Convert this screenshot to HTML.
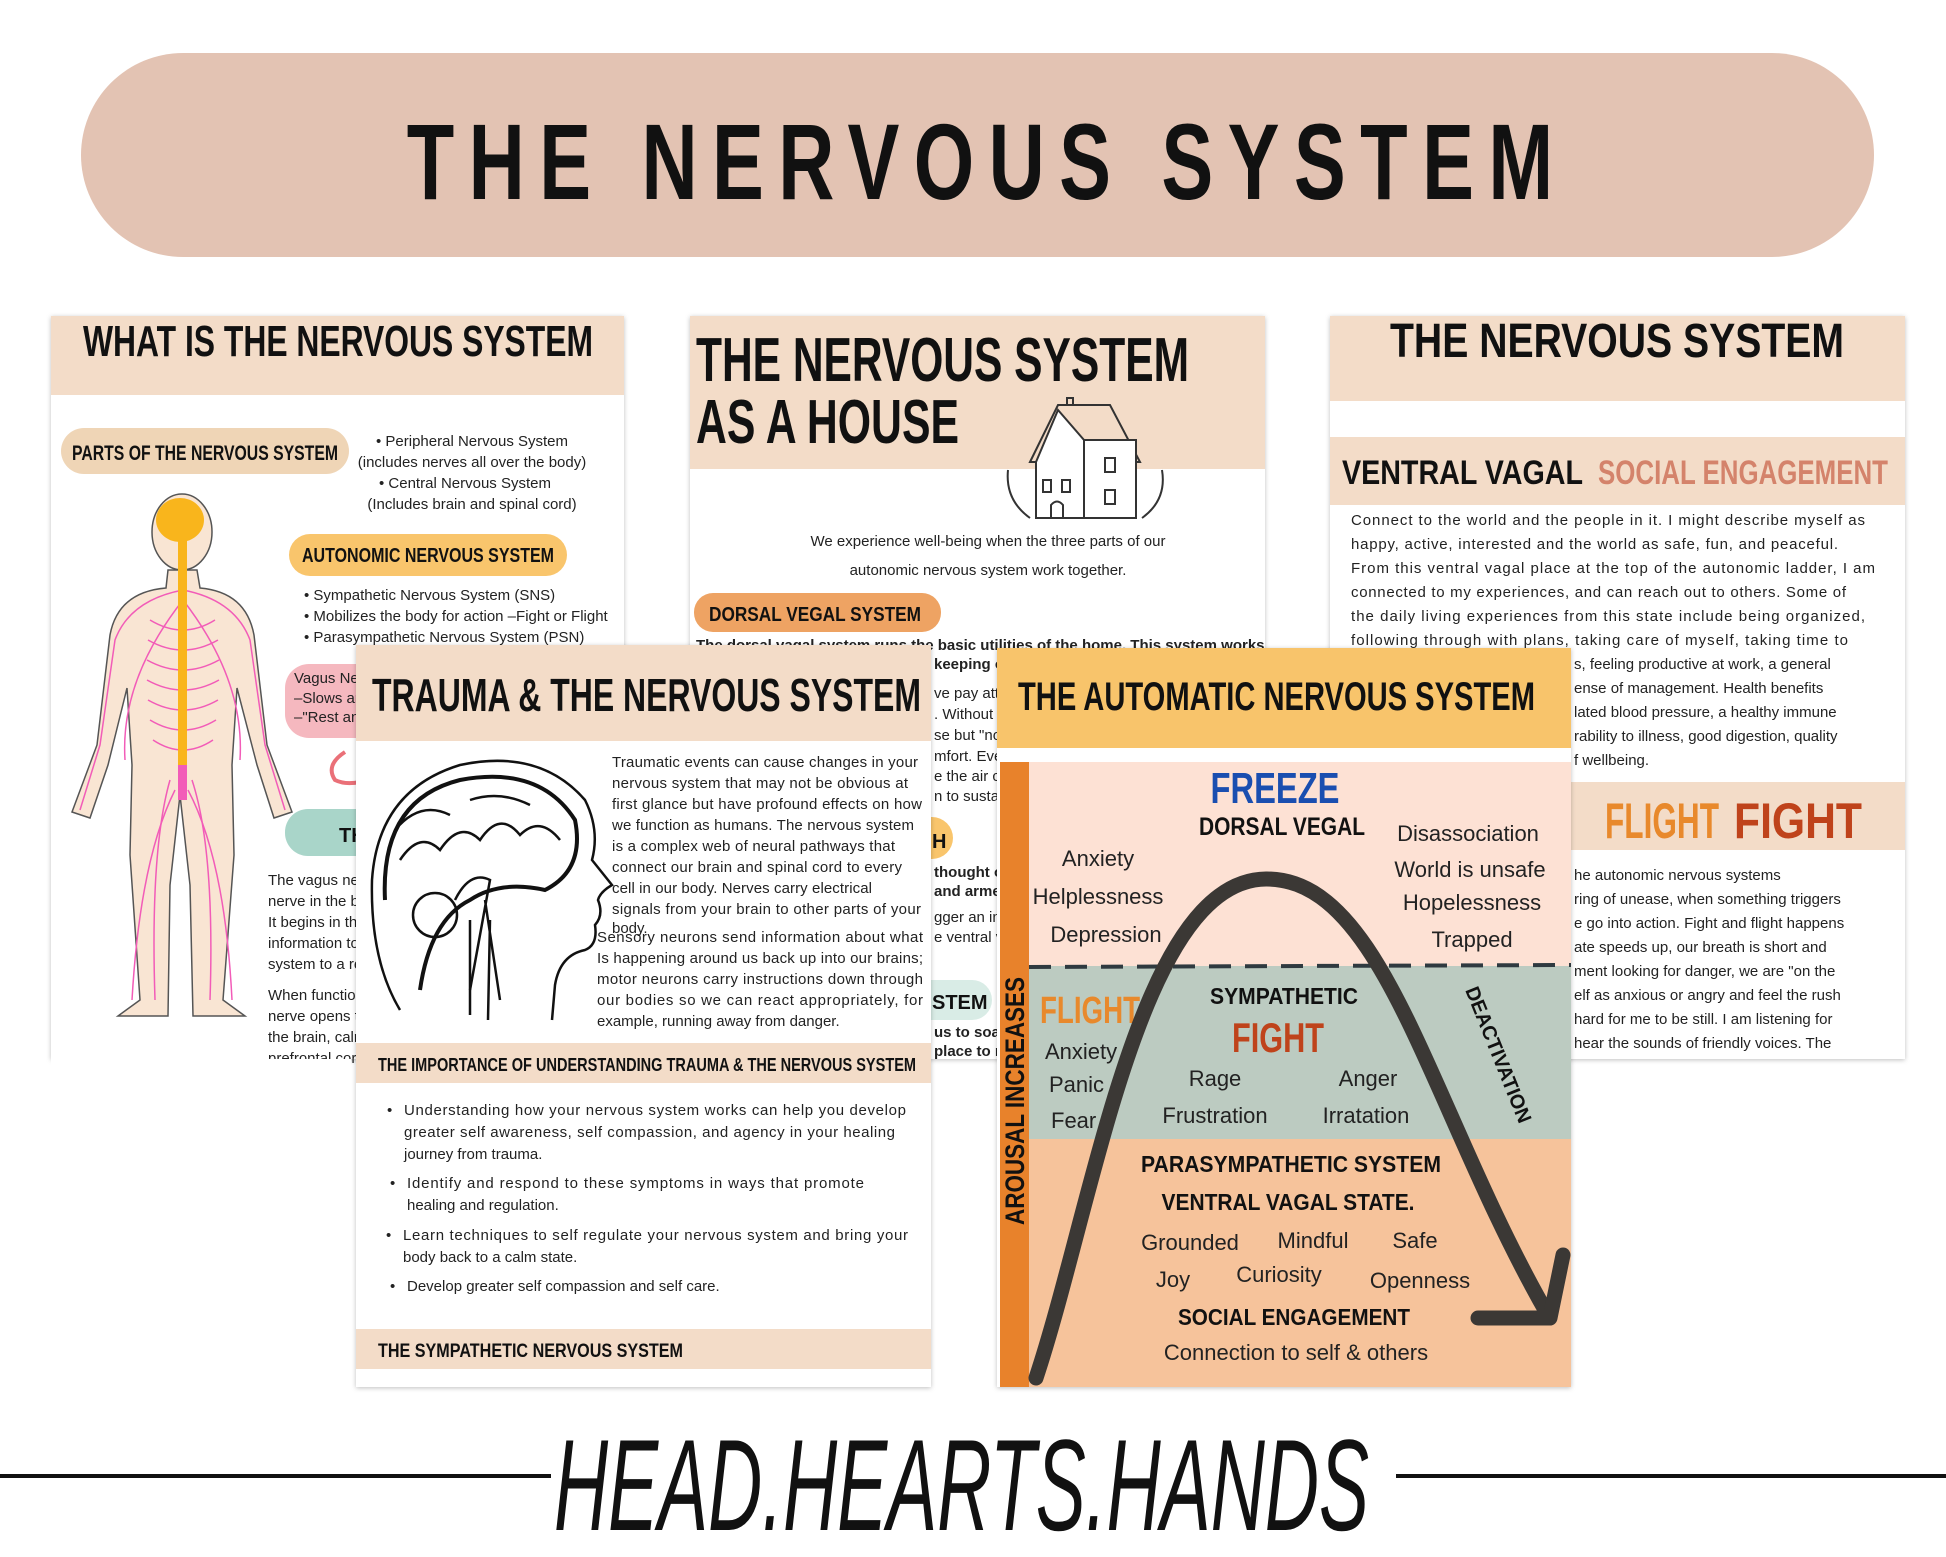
<!DOCTYPE html>
<html><head><meta charset="utf-8"><style>
html,body{margin:0;padding:0;background:#fff;}
svg{display:block;}
text{font-family:"Liberation Sans",sans-serif;}
.h{font-weight:700;fill:#111;}
.b{fill:#222;font-size:15px;}
</style></head><body>
<svg width="1946" height="1557" viewBox="0 0 1946 1557" xmlns="http://www.w3.org/2000/svg">
<defs>
<filter id="sh" x="-5%" y="-5%" width="110%" height="110%"><feDropShadow dx="0" dy="1" stdDeviation="2.5" flood-color="#000" flood-opacity="0.25"/></filter>
</defs>
<rect width="1946" height="1557" fill="#fff"/>

<!-- Banner -->
<rect x="81" y="53" width="1793" height="204" rx="102" fill="#e3c3b3"/>
<g transform="scale(0.72,1)">
<text x="565" y="199" class="h" font-size="108" letter-spacing="20" fill="#1c1a19">THE NERVOUS SYSTEM</text>
</g>

<!-- CARD 1 -->
<g filter="url(#sh)"><rect x="51" y="316" width="573" height="743" fill="#fff"/></g>
<rect x="51" y="316" width="573" height="79" fill="#f3dcc8"/>
<text x="83" y="356" class="h" font-size="44" textLength="510" lengthAdjust="spacingAndGlyphs">WHAT IS THE NERVOUS SYSTEM</text>
<rect x="61" y="428" width="288" height="46" rx="23" fill="#efd5b6"/>
<text x="72" y="460" class="h" font-size="21" textLength="266" lengthAdjust="spacingAndGlyphs">PARTS OF THE NERVOUS SYSTEM</text>
<g text-anchor="middle">
<text x="472" y="446" class="b" font-size="14.5">•  Peripheral Nervous System</text>
<text x="472" y="467" class="b" font-size="14.5">(includes nerves all over the body)</text>
<text x="465" y="488" class="b" font-size="14.5">•  Central Nervous System</text>
<text x="472" y="509" class="b" font-size="14.5">(Includes brain and spinal cord)</text>
</g>
<rect x="289" y="534" width="278" height="42" rx="21" fill="#f9c56c"/>
<text x="302" y="562" class="h" font-size="20" textLength="252" lengthAdjust="spacingAndGlyphs">AUTONOMIC NERVOUS SYSTEM</text>
<text x="304" y="600" class="b" font-size="13.5">•   Sympathetic Nervous System (SNS)</text>
<text x="304" y="621" class="b" font-size="13.5">•   Mobilizes the body for action –Fight or Flight</text>
<text x="304" y="642" class="b" font-size="13.5">•   Parasympathetic Nervous System (PSN)</text>
<rect x="285" y="664" width="150" height="74" rx="24" fill="#f5b8bf"/>
<text x="294" y="683" class="b" font-size="13.5">Vagus Nerve</text>
<text x="294" y="703" class="b" font-size="13.5">–Slows and calms</text>
<text x="294" y="722" class="b" font-size="13.5">–"Rest and digest"</text>
<path d="M345,752 Q325,765 335,780 Q345,785 360,782" fill="none" stroke="#ea7078" stroke-width="4"/>
<rect x="285" y="809" width="150" height="47" rx="23" fill="#a9d5c9"/>
<text x="339" y="842" class="h" font-size="20">TH</text>
<text x="268" y="885" class="b" font-size="14">The vagus nerve is the longest</text>
<text x="268" y="906" class="b" font-size="14">nerve in the body</text>
<text x="268" y="927" class="b" font-size="14">It begins in the brain</text>
<text x="268" y="948" class="b" font-size="14">information to the</text>
<text x="268" y="969" class="b" font-size="14">system to a resting</text>
<text x="268" y="1000" class="b" font-size="14">When functioning</text>
<text x="268" y="1021" class="b" font-size="14">nerve opens the</text>
<text x="268" y="1042" class="b" font-size="14">the brain, calming</text>
<text x="268" y="1063" class="b" font-size="14">prefrontal cortex</text>
<rect x="51" y="1059" width="300" height="10" fill="#fff"/>
<!-- human figure -->
<path d="M168,570 L166,588 Q118,592 110,635 L97,745 L72,812 L90,818 L108,765 L127,688 L132,765 L130,855 L140,1000 L118,1016 L168,1016 L170,885 L180,795 L190,885 L193,1016 L245,1016 L223,1000 L234,855 L232,765 L237,688 L257,765 L274,818 L292,812 L267,745 L254,635 Q246,592 200,588 L197,570 Z" fill="#f9e5d3" stroke="#555" stroke-width="1.5"/>
<ellipse cx="182" cy="532" rx="30" ry="38" fill="#f9e5d3" stroke="#555" stroke-width="1.5"/>
<ellipse cx="180" cy="520" rx="24" ry="22" fill="#f9b51c"/>
<g fill="none" stroke="#f25cb8" stroke-width="1.5">
<path d="M183,590 Q130,600 115,640 L100,745 L80,810"/>
<path d="M183,590 Q235,600 250,640 L265,745 L285,810"/>
<path d="M170,780 Q150,850 155,1000"/><path d="M192,780 Q215,850 210,1000"/>
<path d="M175,790 Q140,860 132,1000"/><path d="M188,790 Q225,860 232,1000"/>
<path d="M150,620 Q183,640 215,620"/><path d="M148,640 Q183,660 218,640"/><path d="M147,660 Q183,680 219,660"/><path d="M147,680 Q183,700 219,680"/><path d="M148,700 Q183,720 218,700"/><path d="M150,720 Q183,740 216,720"/><path d="M153,740 Q183,760 213,740"/>
<path d="M183,600 Q120,680 125,760"/><path d="M183,600 Q245,680 240,760"/>
</g>
<rect x="178" y="540" width="9" height="225" fill="#f9b51c"/>
<rect x="178" y="765" width="9" height="35" fill="#f25cb8"/>

<!-- CARD 2 -->
<g filter="url(#sh)"><rect x="690" y="316" width="575" height="743" fill="#fff"/></g>
<rect x="690" y="316" width="575" height="153" fill="#f3dcc8"/>
<text x="696" y="381" class="h" font-size="62" textLength="493" lengthAdjust="spacingAndGlyphs">THE NERVOUS SYSTEM</text>
<text x="696" y="443" class="h" font-size="62" textLength="263" lengthAdjust="spacingAndGlyphs">AS A HOUSE</text>
<!-- house -->
<g stroke="#333" stroke-width="2">
<rect x="1067" y="398" width="6" height="18" fill="#f3dcc8"/>
<path d="M1030,462 L1058,405 L1110,405 L1140,462 Z" fill="#f3dcc8"/>
<path d="M1036,462 L1058,410 L1084,440 L1084,518 L1036,518 Z" fill="#fff"/>
<rect x="1084" y="440" width="52" height="78" fill="#fff"/>
<rect x="1043" y="480" width="8" height="12" fill="#fff"/><rect x="1062" y="480" width="8" height="12" fill="#fff"/>
<rect x="1105" y="458" width="10" height="14" fill="#fff"/><rect x="1105" y="490" width="10" height="14" fill="#fff"/>
<path d="M1051,518 L1051,505 Q1057,498 1063,505 L1063,518" fill="none"/>
<path d="M1030,518 Q1005,500 1008,470 M1142,518 Q1167,500 1162,470" fill="none"/>
</g>
<text x="988" y="546" class="b" font-size="18.5" text-anchor="middle">We experience well-being when the three parts of our</text>
<text x="988" y="575" class="b" font-size="18.5" text-anchor="middle">autonomic nervous system work together.</text>
<rect x="694" y="593" width="247" height="39" rx="19" fill="#eea363"/>
<text x="709" y="621" class="h" font-size="20" textLength="212" lengthAdjust="spacingAndGlyphs">DORSAL VEGAL SYSTEM</text>
<text x="696" y="650" class="b" font-size="13.5" font-weight="700">The dorsal vagal system runs the basic utilities of the home. This system works</text>
<text x="934" y="669" class="b" font-size="13" font-weight="700">keeping o</text>
<text x="934" y="698" class="b" font-size="13">ve pay att</text>
<text x="934" y="719" class="b" font-size="13">. Without t</text>
<text x="934" y="740" class="b" font-size="13">se but "no</text>
<text x="934" y="761" class="b" font-size="13">mfort. Eve</text>
<text x="934" y="781" class="b" font-size="13">e the air ci</text>
<text x="934" y="801" class="b" font-size="13">n to sustai</text>
<text x="934" y="877" class="b" font-size="13" font-weight="700">thought o</text>
<text x="934" y="896" class="b" font-size="13" font-weight="700">and arme</text>
<text x="934" y="922" class="b" font-size="13">gger an im</text>
<text x="934" y="942" class="b" font-size="13">e ventral v</text>
<text x="934" y="1037" class="b" font-size="13" font-weight="700">us to soak</text>
<text x="934" y="1056" class="b" font-size="13" font-weight="700">place to re</text>
<rect x="880" y="817" width="73" height="42" rx="21" fill="#f9c56c"/>
<text x="932" y="848" class="h" font-size="20">H</text>
<rect x="880" y="980" width="112" height="40" rx="20" fill="#d9ece6"/>
<text x="932" y="1009" class="h" font-size="20">STEM</text>

<!-- CARD 3 -->
<g filter="url(#sh)"><rect x="1330" y="316" width="575" height="743" fill="#fff"/></g>
<rect x="1330" y="316" width="575" height="85" fill="#f3dcc8"/>
<text x="1390" y="357" class="h" font-size="48" textLength="454" lengthAdjust="spacingAndGlyphs">THE NERVOUS SYSTEM</text>
<rect x="1330" y="437" width="575" height="68" fill="#f3dcc8"/>
<text x="1342" y="484" class="h" font-size="34" textLength="241" lengthAdjust="spacingAndGlyphs">VENTRAL VAGAL</text>
<text x="1598" y="484" class="h" font-size="34" textLength="290" lengthAdjust="spacingAndGlyphs" style="fill:#d4836b">SOCIAL ENGAGEMENT</text>
<text x="1351" y="525" class="b" font-size="15.5" textLength="514" lengthAdjust="spacing">Connect to the world and the people in it. I might describe myself as</text>
<text x="1351" y="549" class="b" font-size="15.5" textLength="487" lengthAdjust="spacing">happy, active, interested and the world as safe, fun, and peaceful.</text>
<text x="1351" y="573" class="b" font-size="15.5" textLength="524" lengthAdjust="spacing">From this ventral vagal place at the top of the autonomic ladder, I am</text>
<text x="1351" y="597" class="b" font-size="15.5" textLength="495" lengthAdjust="spacing">connected to my experiences, and can reach out to others. Some of</text>
<text x="1351" y="621" class="b" font-size="15.5" textLength="514" lengthAdjust="spacing">the daily living experiences from this state include being organized,</text>
<text x="1351" y="645" class="b" font-size="15.5" textLength="497" lengthAdjust="spacing">following through with plans, taking care of myself, taking time to</text>
<text x="1574" y="669" class="b" font-size="15.5">s, feeling productive at work, a general</text>
<text x="1574" y="693" class="b" font-size="15.5">ense of management. Health benefits</text>
<text x="1574" y="717" class="b" font-size="15.5">lated blood pressure, a healthy immune</text>
<text x="1574" y="741" class="b" font-size="15.5">rability to illness, good digestion, quality</text>
<text x="1574" y="765" class="b" font-size="15.5">f wellbeing.</text>
<rect x="1330" y="782" width="575" height="68" fill="#f3dcc8"/>
<text x="1605" y="838" class="h" font-size="50" textLength="114" lengthAdjust="spacingAndGlyphs" style="fill:#e8892c">FLIGHT</text>
<text x="1734" y="838" class="h" font-size="50" textLength="128" lengthAdjust="spacingAndGlyphs" style="fill:#bf431b">FIGHT</text>
<text x="1574" y="880" class="b" font-size="15.5">he autonomic nervous systems</text>
<text x="1574" y="904" class="b" font-size="15.5">ring of unease, when something triggers</text>
<text x="1574" y="928" class="b" font-size="15.5">e go into action. Fight and flight happens</text>
<text x="1574" y="952" class="b" font-size="15.5">ate speeds up, our breath is short and</text>
<text x="1574" y="976" class="b" font-size="15.5">ment looking for danger, we are "on the</text>
<text x="1574" y="1000" class="b" font-size="15.5">elf as anxious or angry and feel the rush</text>
<text x="1574" y="1024" class="b" font-size="15.5">hard for me to be still. I am listening for</text>
<text x="1574" y="1048" class="b" font-size="15.5">hear the sounds of friendly voices. The</text>

<!-- CARD 4 -->
<g filter="url(#sh)"><rect x="356" y="645" width="575" height="742" fill="#fff"/></g>
<rect x="356" y="645" width="575" height="96" fill="#f3dcc8"/>
<text x="372" y="711" class="h" font-size="46" textLength="549" lengthAdjust="spacingAndGlyphs">TRAUMA &amp; THE NERVOUS SYSTEM</text>
<g fill="none" stroke="#111" stroke-width="2.5">
<path d="M400,1010 Q370,960 372,880 Q378,790 460,765 Q540,748 585,800 Q600,830 592,860 L612,885 Q600,892 598,900 Q604,915 595,925 Q598,945 585,950 Q560,955 555,985 L552,1020"/>
<path d="M385,900 Q380,800 460,780 Q540,765 575,820 Q585,870 545,890 Q500,880 470,900 Q430,920 420,990" stroke-width="4"/>
<path d="M400,860 Q420,830 440,850 Q460,820 480,840 Q500,810 520,835 Q540,815 560,840"/>
<path d="M395,830 Q420,800 450,815 M470,800 Q500,790 530,805"/>
<path d="M455,900 Q470,870 490,880 L470,990 M485,900 L500,1000"/>
<circle cx="435" cy="915" r="22"/>
<path d="M470,920 L470,1015 M490,920 L488,1020"/>
</g>
<text x="612" y="767" class="b" font-size="14.5" textLength="306" lengthAdjust="spacing">Traumatic events can cause changes in your</text>
<text x="612" y="788" class="b" font-size="14.5" textLength="296" lengthAdjust="spacing">nervous system that may not be obvious at</text>
<text x="612" y="809" class="b" font-size="14.5" textLength="310" lengthAdjust="spacing">first glance but have profound effects on how</text>
<text x="612" y="830" class="b" font-size="14.5" textLength="302" lengthAdjust="spacing">we function as humans. The nervous system</text>
<text x="612" y="851" class="b" font-size="14.5" textLength="283" lengthAdjust="spacing">is a complex web of neural pathways that</text>
<text x="612" y="872" class="b" font-size="14.5" textLength="290" lengthAdjust="spacing">connect our brain and spinal cord to every</text>
<text x="612" y="893" class="b" font-size="14.5" textLength="260" lengthAdjust="spacing">cell in our body. Nerves carry electrical</text>
<text x="612" y="914" class="b" font-size="14.5" textLength="309" lengthAdjust="spacing">signals from your brain to other parts of your</text>
<text x="612" y="933" class="b" font-size="14.5">body.</text>
<text x="597" y="942" class="b" font-size="14.5" textLength="326" lengthAdjust="spacing">Sensory neurons send information about what</text>
<text x="597" y="963" class="b" font-size="14.5" textLength="326" lengthAdjust="spacing">Is happening around us back up into our brains;</text>
<text x="597" y="984" class="b" font-size="14.5" textLength="326" lengthAdjust="spacing">motor neurons carry instructions down through</text>
<text x="597" y="1005" class="b" font-size="14.5" textLength="326" lengthAdjust="spacing">our bodies so we can react appropriately, for</text>
<text x="597" y="1026" class="b" font-size="14.5">example, running away from danger.</text>
<rect x="356" y="1043" width="575" height="40" fill="#f3dcc8"/>
<text x="378" y="1071" class="h" font-size="18" textLength="538" lengthAdjust="spacingAndGlyphs">THE IMPORTANCE OF UNDERSTANDING TRAUMA &amp; THE NERVOUS SYSTEM</text>
<text x="387" y="1115" class="b" font-size="15">•</text><text x="404" y="1115" class="b" font-size="15" textLength="502" lengthAdjust="spacing">Understanding how your nervous system works can help you develop</text>
<text x="404" y="1137" class="b" font-size="15" textLength="491" lengthAdjust="spacing">greater self awareness, self compassion, and agency in your healing</text>
<text x="404" y="1159" class="b" font-size="15">journey from trauma.</text>
<text x="390" y="1188" class="b" font-size="15">•</text><text x="407" y="1188" class="b" font-size="15" textLength="457" lengthAdjust="spacing">Identify and respond to these symptoms in ways that promote</text>
<text x="407" y="1210" class="b" font-size="15">healing and regulation.</text>
<text x="386" y="1240" class="b" font-size="15">•</text><text x="403" y="1240" class="b" font-size="15" textLength="505" lengthAdjust="spacing">Learn techniques to self regulate your nervous system and bring your</text>
<text x="403" y="1262" class="b" font-size="15">body back to a calm state.</text>
<text x="390" y="1291" class="b" font-size="15">•</text><text x="407" y="1291" class="b" font-size="15">Develop greater self compassion and self care.</text>
<rect x="356" y="1329" width="575" height="40" fill="#f3dcc8"/>
<text x="378" y="1357" class="h" font-size="19" textLength="305" lengthAdjust="spacingAndGlyphs">THE SYMPATHETIC NERVOUS SYSTEM</text>

<!-- CARD 5 -->
<g filter="url(#sh)"><rect x="997" y="648" width="574" height="739" fill="#fff"/></g>
<rect x="997" y="648" width="574" height="100" fill="#f8c46b"/>
<text x="1018" y="710" class="h" font-size="40" textLength="517" lengthAdjust="spacingAndGlyphs">THE AUTOMATIC NERVOUS SYSTEM</text>
<rect x="1029" y="762" width="542" height="204" fill="#fde1d4"/>
<rect x="1029" y="966" width="542" height="173" fill="#bccbc1"/>
<rect x="1029" y="1139" width="542" height="248" fill="#f6c39b"/>
<rect x="1000" y="762" width="29" height="625" fill="#e8822b"/>
<line x1="1029" y1="967" x2="1571" y2="965" stroke="#2f3a40" stroke-width="4" stroke-dasharray="22 14"/>
<text transform="translate(1024,1225) rotate(-90)" class="h" font-size="27" textLength="248" lengthAdjust="spacingAndGlyphs">AROUSAL INCREASES</text>
<text x="1275" y="803" text-anchor="middle" class="h" font-size="44" textLength="129" lengthAdjust="spacingAndGlyphs" style="fill:#1a4eb0">FREEZE</text>
<text x="1282" y="835" text-anchor="middle" class="h" font-size="25" textLength="166" lengthAdjust="spacingAndGlyphs">DORSAL VEGAL</text>
<g font-size="22" text-anchor="middle" fill="#222">
<text x="1098" y="866">Anxiety</text>
<text x="1098" y="904">Helplessness</text>
<text x="1106" y="942">Depression</text>
<text x="1468" y="841">Disassociation</text>
<text x="1470" y="877">World is unsafe</text>
<text x="1472" y="910">Hopelessness</text>
<text x="1472" y="947">Trapped</text>
<text x="1215" y="1086">Rage</text>
<text x="1368" y="1086">Anger</text>
<text x="1215" y="1123">Frustration</text>
<text x="1366" y="1123">Irratation</text>
<text x="1190" y="1250">Grounded</text>
<text x="1313" y="1248">Mindful</text>
<text x="1415" y="1248">Safe</text>
<text x="1173" y="1287">Joy</text>
<text x="1279" y="1282">Curiosity</text>
<text x="1420" y="1288">Openness</text>
<text x="1296" y="1360">Connection to self &amp; others</text>
</g>
<g font-size="22" fill="#222">
<text x="1045" y="1059">Anxiety</text>
<text x="1049" y="1092">Panic</text>
<text x="1051" y="1128">Fear</text>
</g>
<text x="1040" y="1023" class="h" font-size="38" textLength="100" lengthAdjust="spacingAndGlyphs" style="fill:#e8892c">FLIGHT</text>
<text x="1284" y="1004" text-anchor="middle" class="h" font-size="23" textLength="148" lengthAdjust="spacingAndGlyphs">SYMPATHETIC</text>
<text x="1278" y="1052" text-anchor="middle" class="h" font-size="42" textLength="92" lengthAdjust="spacingAndGlyphs" style="fill:#bf431b">FIGHT</text>
<text transform="translate(1465,990) rotate(68)" class="h" font-size="20" textLength="145" lengthAdjust="spacingAndGlyphs">DEACTIVATION</text>
<text x="1291" y="1172" text-anchor="middle" class="h" font-size="23" textLength="300" lengthAdjust="spacingAndGlyphs">PARASYMPATHETIC SYSTEM</text>
<text x="1288" y="1210" text-anchor="middle" class="h" font-size="23" textLength="253" lengthAdjust="spacingAndGlyphs">VENTRAL VAGAL STATE.</text>
<text x="1294" y="1325" text-anchor="middle" class="h" font-size="23" textLength="232" lengthAdjust="spacingAndGlyphs">SOCIAL ENGAGEMENT</text>
<path d="M1036,1378 C1095,1200 1140,880 1266,879 C1385,878 1430,1110 1548,1315" fill="none" stroke="#3b3835" stroke-width="15" stroke-linecap="round"/>
<path d="M1478,1318 L1550,1318 L1563,1255" fill="none" stroke="#3b3835" stroke-width="15" stroke-linecap="round" stroke-linejoin="round"/>

<!-- Footer -->
<line x1="0" y1="1476" x2="551" y2="1476" stroke="#111" stroke-width="4"/>
<line x1="1396" y1="1476" x2="1946" y2="1476" stroke="#111" stroke-width="4"/>
<text x="554" y="1530" font-size="130" font-style="italic" textLength="815" lengthAdjust="spacingAndGlyphs" fill="#111" style="font-family:'Liberation Sans Narrow','Liberation Sans',sans-serif">HEAD.HEARTS.HANDS</text>
</svg>
</body></html>
